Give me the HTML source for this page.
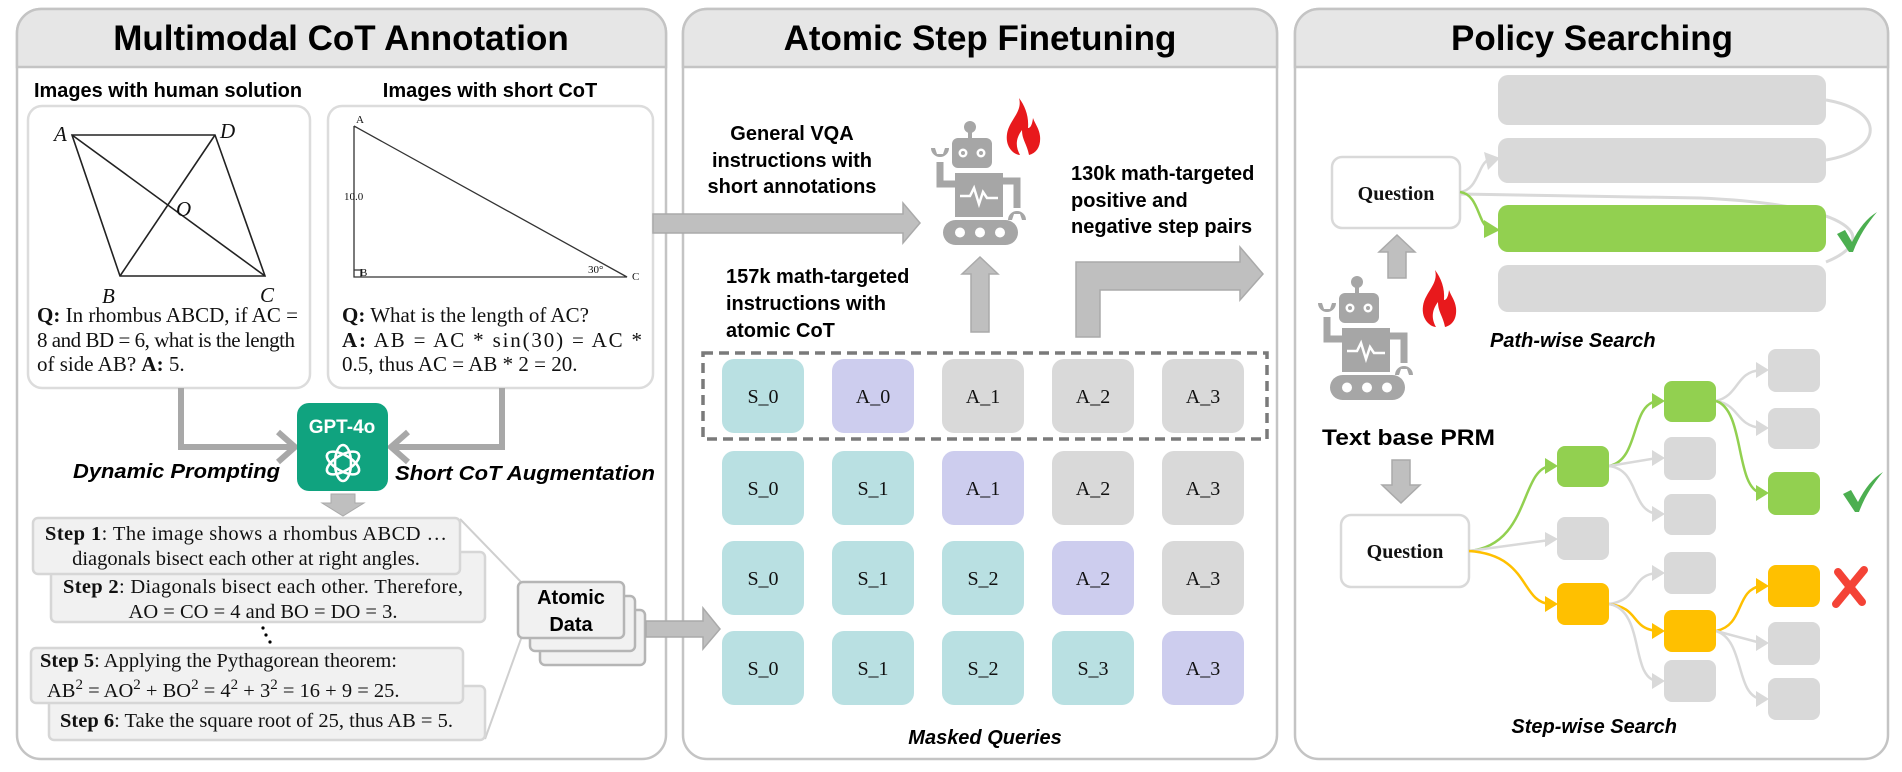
<!DOCTYPE html>
<html><head><meta charset="utf-8"><style>
html,body{margin:0;padding:0;background:#fff;}
svg{display:block;}
.t{font-family:"Liberation Sans",sans-serif;font-weight:bold;fill:#000;}
.s{font-family:"Liberation Serif",serif;fill:#111;}
</style></head><body>
<svg width="1902" height="772" viewBox="0 0 1902 772" xmlns="http://www.w3.org/2000/svg">
<defs>
<g id="robot" fill="#a6a6a6">
  <circle cx="40" cy="7" r="6"/>
  <rect x="38" y="7" width="4" height="12"/>
  <rect x="22" y="18" width="40" height="30" rx="6"/>
  <circle cx="33" cy="33" r="4.5" fill="#fff"/><circle cx="33" cy="33" r="2" />
  <circle cx="51" cy="33" r="4.5" fill="#fff"/><circle cx="51" cy="33" r="2"/>
  <rect x="25" y="53" width="48" height="44"/>
  <polyline points="30,76 40,76 44,68 49,84 53,72 57,78 68,78" fill="none" stroke="#fff" stroke-width="2.5"/>
  <path d="M25 64 H10 V42" fill="none" stroke="#a6a6a6" stroke-width="7"/>
  <path d="M1 28 a9 9 0 0 0 18 0 l-4 0 l-2 6 l-6 0 l-2 -6 z"/>
  <path d="M73 61 H87 V88" fill="none" stroke="#a6a6a6" stroke-width="7"/>
  <path d="M78 100 a9 9 0 0 1 18 0 l-4 0 l-2 -6 l-6 0 l-2 6 z"/>
  <rect x="13" y="100" width="75" height="25" rx="12.5"/>
  <circle cx="30" cy="112.5" r="5" fill="#fff"/><circle cx="50" cy="112.5" r="5" fill="#fff"/><circle cx="70" cy="112.5" r="5" fill="#fff"/>
</g>
<path id="flame" fill="#e8191c" d="M14 0 C18 14 4 22 2 36 C0 50 10 57 15 57 C10 48 11 40 17 32 C17 42 22 46 24 57 C32 55 36 48 35 38 C34 30 30 26 28 20 C27 28 25 30 23 30 C24 18 20 8 14 0 Z"/>
<path id="check" fill="#4caf50" d="M0 22 L8 18 L15 30 C22 16 30 6 40 0 C30 12 22 24 16 40 L12 40 Z"/>
</defs>

<!-- Panels -->
<g stroke="#c4c4c4" stroke-width="2.5">
  <rect x="17" y="9" width="649" height="750" rx="24" fill="#fff"/>
  <path d="M17 67 V33 a24 24 0 0 1 24 -24 H642 a24 24 0 0 1 24 24 V67 Z" fill="#e6e6e6"/>
  <rect x="683" y="9" width="594" height="750" rx="24" fill="#fff"/>
  <path d="M683 67 V33 a24 24 0 0 1 24 -24 H1253 a24 24 0 0 1 24 24 V67 Z" fill="#e6e6e6"/>
  <rect x="1295" y="9" width="593" height="750" rx="24" fill="#fff"/>
  <path d="M1295 67 V33 a24 24 0 0 1 24 -24 H1864 a24 24 0 0 1 24 24 V67 Z" fill="#e6e6e6"/>
</g>
<text class="t" x="341" y="50" font-size="35" text-anchor="middle">Multimodal CoT Annotation</text>
<text class="t" x="980" y="50" font-size="35" text-anchor="middle">Atomic Step Finetuning</text>
<text class="t" x="1592" y="50" font-size="35" text-anchor="middle">Policy Searching</text>

<!-- Panel 1 -->
<text class="t" x="34" y="97" font-size="20" textLength="268" lengthAdjust="spacingAndGlyphs">Images with human solution</text>
<text class="t" x="490" y="97" font-size="20" text-anchor="middle">Images with short CoT</text>
<rect x="28" y="106" width="282" height="282" rx="14" fill="#fff" stroke="#dcdcdc" stroke-width="2.5"/>
<rect x="328" y="106" width="325" height="282" rx="14" fill="#fff" stroke="#dcdcdc" stroke-width="2.5"/>
<g stroke="#222" stroke-width="1.6" fill="none">
  <polygon points="72,135 215,135 265,276 120,276"/>
  <line x1="72" y1="135" x2="265" y2="276"/><line x1="215" y1="135" x2="120" y2="276"/>
</g>
<g class="s" font-style="italic" font-size="21">
  <text x="54" y="141">A</text><text x="220" y="138">D</text><text x="176" y="216">O</text><text x="102" y="303">B</text><text x="260" y="302">C</text>
</g>
<g stroke="#333" stroke-width="1.3" fill="none">
  <polyline points="354,126 354,277 627,277 354,126"/>
  <polyline points="354,270 361,270 361,277"/>
</g>
<g class="s" font-size="11" fill="#666"><text x="356" y="123">A</text><text x="344" y="200">10.0</text><text x="360" y="276">B</text><text x="588" y="273">30°</text><text x="632" y="280">C</text></g>
<g class="s" font-size="21">
  <text x="37" y="322"><tspan font-weight="bold">Q:</tspan> In rhombus ABCD, if AC =</text>
  <text x="37" y="347" textLength="258">8 and BD = 6, what is the length</text>
  <text x="37" y="371">of side AB?   <tspan font-weight="bold">A:</tspan> 5.</text>
  <text x="342" y="322"><tspan font-weight="bold">Q:</tspan> What is the length of AC?</text>
  <text x="342" y="347" textLength="300"><tspan font-weight="bold">A:</tspan> AB = AC * sin(30) = AC *</text>
  <text x="342" y="371">0.5, thus AC = AB * 2 = 20.</text>
</g>
<!-- connectors to GPT -->
<g fill="none" stroke="#a8a8a8" stroke-width="6">
  <path d="M181 388 V447 H294"/><path d="M502 388 V447 H391"/>
  <path d="M278 432 L295 447 L278 462"/><path d="M408 432 L391 447 L408 462"/>
</g>
<rect x="297" y="403" width="91" height="88" rx="12" fill="#10a37f"/>
<text x="342" y="433" font-family="Liberation Sans,sans-serif" font-weight="bold" font-size="19" fill="#fff" text-anchor="middle">GPT-4o</text>
<g fill="none" stroke="#fff" stroke-width="2.6" transform="translate(343,463)">
  <ellipse rx="8" ry="18" transform="rotate(0)"/><ellipse rx="8" ry="18" transform="rotate(60)"/><ellipse rx="8" ry="18" transform="rotate(120)"/>
</g>
<text class="t" x="73" y="478" font-size="20" font-style="italic" textLength="207" lengthAdjust="spacingAndGlyphs">Dynamic Prompting</text>
<text class="t" x="395" y="480" font-size="20" font-style="italic" textLength="260" lengthAdjust="spacingAndGlyphs">Short CoT Augmentation</text>
<polygon points="331,494 355,494 355,503 364,503 343,516 322,503 331,503" fill="#bfbfbf" stroke="#aaa" stroke-width="1"/>
<!-- connectors to atomic -->
<g stroke="#cfcfcf" stroke-width="2"><line x1="460" y1="519" x2="522" y2="583"/><line x1="485" y1="739" x2="522" y2="636"/></g>
<!-- step boxes -->
<g fill="#f1f1f1" stroke="#d6d6d6" stroke-width="2.5">
  <rect x="51" y="552" width="434" height="70" rx="5"/>
  <rect x="33" y="518" width="427" height="56" rx="5"/>
  <rect x="49" y="686" width="436" height="54" rx="5"/>
  <rect x="31" y="648" width="432" height="55" rx="5"/>
</g>
<g class="s" font-size="20.5">
  <text x="45" y="540" textLength="402"><tspan font-weight="bold">Step 1</tspan>: The image shows a rhombus ABCD …</text>
  <text x="246" y="565" text-anchor="middle">diagonals bisect each other at right angles.</text>
  <text x="63" y="593" textLength="400"><tspan font-weight="bold">Step 2</tspan>: Diagonals bisect each other. Therefore,</text>
  <text x="263" y="618" text-anchor="middle">AO = CO = 4 and BO = DO = 3.</text>
  <text x="40" y="667"><tspan font-weight="bold">Step 5</tspan>: Applying the Pythagorean theorem:</text>
  <text x="47" y="697">AB<tspan dy="-8" font-size="15">2</tspan><tspan dy="8"> = AO</tspan><tspan dy="-8" font-size="15">2</tspan><tspan dy="8"> + BO</tspan><tspan dy="-8" font-size="15">2</tspan><tspan dy="8"> = 4</tspan><tspan dy="-8" font-size="15">2</tspan><tspan dy="8"> + 3</tspan><tspan dy="-8" font-size="15">2</tspan><tspan dy="8"> = 16 + 9 = 25.</tspan></text>
  <text x="60" y="727"><tspan font-weight="bold">Step 6</tspan>: Take the square root of 25, thus AB = 5.</text>
</g>
<g fill="#000"><circle cx="263" cy="628" r="1.6"/><circle cx="266" cy="635" r="1.6"/><circle cx="270" cy="642" r="1.6"/></g>
<!-- Atomic data -->
<g fill="#f1f1f1" stroke="#b5b5b5" stroke-width="2.5">
  <rect x="540" y="610" width="105" height="55" rx="5"/>
  <rect x="530" y="596" width="105" height="55" rx="5"/>
  <rect x="518" y="582" width="106" height="56" rx="5"/>
</g>
<text class="t" x="571" y="604" font-size="20" text-anchor="middle">Atomic</text>
<text class="t" x="571" y="631" font-size="20" text-anchor="middle">Data</text>
<polygon points="646,621 703,621 703,608 720,629 703,649 703,637 646,637" fill="#bfbfbf" stroke="#aaa" stroke-width="1.5"/>

<!-- Panel 2 -->
<polygon points="653,214 903,214 903,203 920,223 903,243 903,233 653,233" fill="#bfbfbf" stroke="#aaa" stroke-width="1.5"/>
<g class="t" font-size="20" text-anchor="middle">
  <text x="792" y="140">General VQA</text>
  <text x="792" y="167">instructions with</text>
  <text x="792" y="193">short annotations</text>
</g>
<g class="t" font-size="20">
  <text x="726" y="283">157k math-targeted</text>
  <text x="726" y="310">instructions with</text>
  <text x="726" y="337">atomic CoT</text>
  <text x="1071" y="180">130k math-targeted</text>
  <text x="1071" y="207">positive and</text>
  <text x="1071" y="233">negative step pairs</text>
</g>
<use href="#robot" x="930" y="120"/>
<use href="#flame" x="1005" y="98"/>
<polygon points="971,332 989,332 989,274 998,274 980,257 962,274 971,274" fill="#bfbfbf" stroke="#aaa" stroke-width="1.5"/>
<polygon points="1076,337 1100,337 1100,290 1240,290 1240,300 1263,274 1240,247 1240,262 1076,262" fill="#bfbfbf" stroke="#aaa" stroke-width="1.5"/>
<rect x="703" y="353" width="564" height="86" fill="none" stroke="#7a7a7a" stroke-width="3.5" stroke-dasharray="10,6"/>
<g class="s" font-size="20" text-anchor="middle">
  <!-- row 1 -->
  <rect x="722" y="359" width="82" height="74" rx="12" fill="#b9e0e2"/><text x="763" y="403">S_0</text>
  <rect x="832" y="359" width="82" height="74" rx="12" fill="#cdcdee"/><text x="873" y="403">A_0</text>
  <rect x="942" y="359" width="82" height="74" rx="12" fill="#d9d9d9"/><text x="983" y="403">A_1</text>
  <rect x="1052" y="359" width="82" height="74" rx="12" fill="#d9d9d9"/><text x="1093" y="403">A_2</text>
  <rect x="1162" y="359" width="82" height="74" rx="12" fill="#d9d9d9"/><text x="1203" y="403">A_3</text>
  <!-- row 2 -->
  <rect x="722" y="451" width="82" height="74" rx="12" fill="#b9e0e2"/><text x="763" y="495">S_0</text>
  <rect x="832" y="451" width="82" height="74" rx="12" fill="#b9e0e2"/><text x="873" y="495">S_1</text>
  <rect x="942" y="451" width="82" height="74" rx="12" fill="#cdcdee"/><text x="983" y="495">A_1</text>
  <rect x="1052" y="451" width="82" height="74" rx="12" fill="#d9d9d9"/><text x="1093" y="495">A_2</text>
  <rect x="1162" y="451" width="82" height="74" rx="12" fill="#d9d9d9"/><text x="1203" y="495">A_3</text>
  <!-- row 3 -->
  <rect x="722" y="541" width="82" height="74" rx="12" fill="#b9e0e2"/><text x="763" y="585">S_0</text>
  <rect x="832" y="541" width="82" height="74" rx="12" fill="#b9e0e2"/><text x="873" y="585">S_1</text>
  <rect x="942" y="541" width="82" height="74" rx="12" fill="#b9e0e2"/><text x="983" y="585">S_2</text>
  <rect x="1052" y="541" width="82" height="74" rx="12" fill="#cdcdee"/><text x="1093" y="585">A_2</text>
  <rect x="1162" y="541" width="82" height="74" rx="12" fill="#d9d9d9"/><text x="1203" y="585">A_3</text>
  <!-- row 4 -->
  <rect x="722" y="631" width="82" height="74" rx="12" fill="#b9e0e2"/><text x="763" y="675">S_0</text>
  <rect x="832" y="631" width="82" height="74" rx="12" fill="#b9e0e2"/><text x="873" y="675">S_1</text>
  <rect x="942" y="631" width="82" height="74" rx="12" fill="#b9e0e2"/><text x="983" y="675">S_2</text>
  <rect x="1052" y="631" width="82" height="74" rx="12" fill="#b9e0e2"/><text x="1093" y="675">S_3</text>
  <rect x="1162" y="631" width="82" height="74" rx="12" fill="#cdcdee"/><text x="1203" y="675">A_3</text>
</g>
<text class="t" x="985" y="744" font-size="20" font-style="italic" text-anchor="middle">Masked Queries</text>

<!-- Panel 3 path-wise -->
<g fill="none" stroke="#d9d9d9" stroke-width="3">
  <path d="M1826 100 C1885 110 1885 150 1826 160"/>
  <path d="M1460 194 L1700 198 C1860 205 1880 240 1826 262"/>
</g>
<rect x="1498" y="75" width="328" height="50" rx="10" fill="#d9d9d9"/>
<rect x="1498" y="138" width="328" height="45" rx="10" fill="#d9d9d9"/>
<rect x="1498" y="205" width="328" height="47" rx="10" fill="#92d050"/>
<rect x="1498" y="265" width="328" height="47" rx="10" fill="#d9d9d9"/>
<rect x="1332" y="157" width="128" height="71" rx="10" fill="#fff" stroke="#d9d9d9" stroke-width="2.5"/>
<text class="s" x="1396" y="200" font-size="20" font-weight="bold" text-anchor="middle">Question</text>
<path d="M1460 192 C1478 190 1478 165 1488 160" fill="none" stroke="#d9d9d9" stroke-width="2.5"/>
<polygon points="1484,152 1500,158 1488,170" fill="#d9d9d9"/>
<path d="M1460 192 C1478 194 1478 222 1488 228" fill="none" stroke="#92d050" stroke-width="2.5"/>
<polygon points="1484,220 1500,230 1484,238" fill="#92d050"/>
<use href="#check" x="1837" y="212"/>
<polygon points="1388,278 1406,278 1406,252 1415,252 1397,235 1379,252 1388,252" fill="#bfbfbf" stroke="#aaa" stroke-width="1.5"/>
<use href="#robot" x="1317" y="275"/>
<use href="#flame" x="1421" y="270"/>
<text class="t" x="1490" y="347" font-size="20" font-style="italic">Path-wise Search</text>
<text class="t" x="1322" y="445" font-size="22" textLength="173" lengthAdjust="spacingAndGlyphs">Text base PRM</text>
<polygon points="1392,460 1410,460 1410,485 1420,485 1401,503 1382,485 1392,485" fill="#bfbfbf" stroke="#aaa" stroke-width="1.5"/>
<rect x="1341" y="515" width="128" height="72" rx="10" fill="#fff" stroke="#d9d9d9" stroke-width="2.5"/>
<text class="s" x="1405" y="558" font-size="20" font-weight="bold" text-anchor="middle">Question</text>

<!-- tree edges -->
<g fill="none" stroke-width="2.5">
  <path d="M1469 551 C1530 545 1520 470 1550 466" stroke="#92d050"/>
  <path d="M1469 551 L1550 540" stroke="#d9d9d9"/>
  <path d="M1469 551 C1530 555 1520 602 1550 604" stroke="#ffc000"/>
  <path d="M1609 466 C1640 460 1630 405 1657 401" stroke="#92d050"/>
  <path d="M1609 466 L1657 458" stroke="#d9d9d9"/>
  <path d="M1609 466 C1640 470 1630 510 1657 514" stroke="#d9d9d9"/>
  <path d="M1716 401 C1740 395 1735 372 1761 370" stroke="#d9d9d9"/>
  <path d="M1716 401 C1740 405 1735 425 1761 428" stroke="#d9d9d9"/>
  <path d="M1716 401 C1745 410 1735 488 1761 493" stroke="#92d050"/>
  <path d="M1609 604 C1640 600 1630 575 1657 573" stroke="#d9d9d9"/>
  <path d="M1609 604 C1640 608 1630 628 1657 631" stroke="#ffc000"/>
  <path d="M1609 604 C1645 610 1630 678 1657 681" stroke="#d9d9d9"/>
  <path d="M1716 631 C1745 625 1735 590 1761 586" stroke="#ffc000"/>
  <path d="M1716 631 L1761 643" stroke="#d9d9d9"/>
  <path d="M1716 631 C1745 640 1735 695 1761 699" stroke="#d9d9d9"/>
</g>
<g>
  <polygon points="1545,458 1558,466 1545,474" fill="#92d050"/>
  <polygon points="1545,532 1558,539 1545,547" fill="#d9d9d9"/>
  <polygon points="1545,596 1558,604 1545,612" fill="#ffc000"/>
  <polygon points="1652,393 1665,401 1652,409" fill="#92d050"/>
  <polygon points="1652,450 1665,458 1652,466" fill="#d9d9d9"/>
  <polygon points="1652,506 1665,514 1652,522" fill="#d9d9d9"/>
  <polygon points="1756,362 1769,370 1756,378" fill="#d9d9d9"/>
  <polygon points="1756,420 1769,428 1756,436" fill="#d9d9d9"/>
  <polygon points="1756,485 1769,493 1756,501" fill="#92d050"/>
  <polygon points="1652,565 1665,573 1652,581" fill="#d9d9d9"/>
  <polygon points="1652,623 1665,631 1652,639" fill="#ffc000"/>
  <polygon points="1652,673 1665,681 1652,689" fill="#d9d9d9"/>
  <polygon points="1756,578 1769,586 1756,594" fill="#ffc000"/>
  <polygon points="1756,635 1769,643 1756,651" fill="#d9d9d9"/>
  <polygon points="1756,691 1769,699 1756,707" fill="#d9d9d9"/>
</g>
<!-- tree nodes -->
<g>
  <rect x="1557" y="446" width="52" height="41" rx="8" fill="#92d050"/>
  <rect x="1557" y="517" width="52" height="43" rx="8" fill="#d9d9d9"/>
  <rect x="1557" y="583" width="52" height="42" rx="8" fill="#ffc000"/>
  <rect x="1664" y="381" width="52" height="41" rx="8" fill="#92d050"/>
  <rect x="1664" y="437" width="52" height="43" rx="8" fill="#d9d9d9"/>
  <rect x="1664" y="494" width="52" height="41" rx="8" fill="#d9d9d9"/>
  <rect x="1664" y="552" width="52" height="42" rx="8" fill="#d9d9d9"/>
  <rect x="1664" y="610" width="52" height="42" rx="8" fill="#ffc000"/>
  <rect x="1664" y="660" width="52" height="42" rx="8" fill="#d9d9d9"/>
  <rect x="1768" y="349" width="52" height="43" rx="8" fill="#d9d9d9"/>
  <rect x="1768" y="408" width="52" height="41" rx="8" fill="#d9d9d9"/>
  <rect x="1768" y="472" width="52" height="43" rx="8" fill="#92d050"/>
  <rect x="1768" y="565" width="52" height="42" rx="8" fill="#ffc000"/>
  <rect x="1768" y="622" width="52" height="43" rx="8" fill="#d9d9d9"/>
  <rect x="1768" y="678" width="52" height="42" rx="8" fill="#d9d9d9"/>
</g>
<use href="#check" x="1843" y="472"/>
<g stroke="#f44336" stroke-width="8" stroke-linecap="round"><line x1="1838" y1="572" x2="1862" y2="602"/><line x1="1864" y1="570" x2="1836" y2="604"/></g>
<text class="t" x="1677" y="733" font-size="20" font-style="italic" text-anchor="end">Step-wise Search</text>
</svg>
</body></html>
